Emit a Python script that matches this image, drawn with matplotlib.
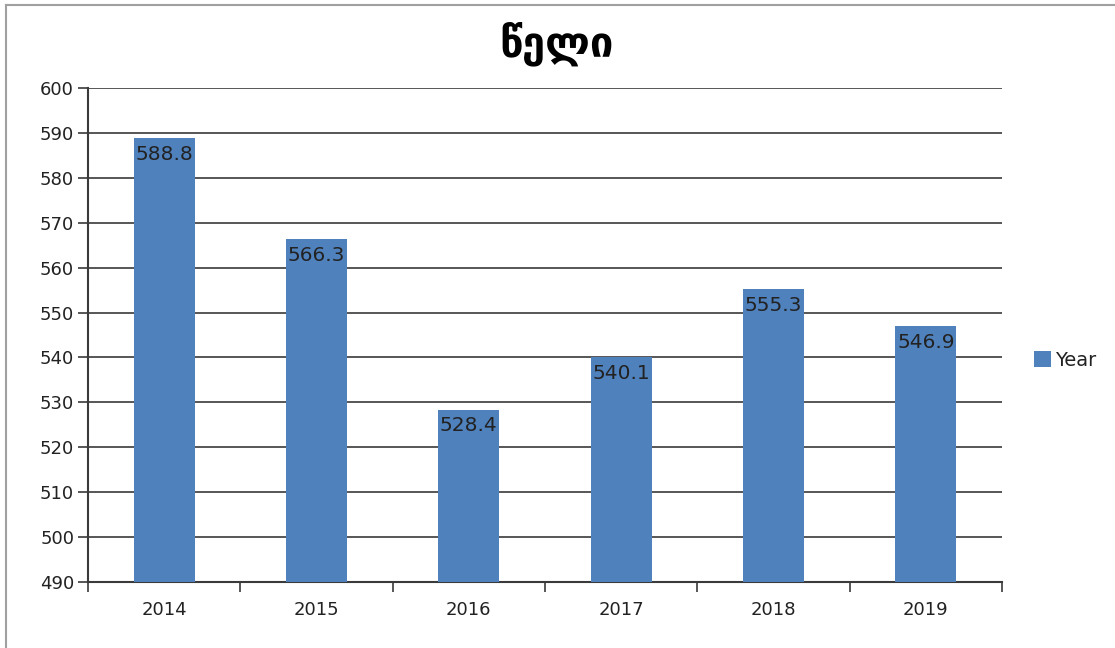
import matplotlib
matplotlib.use("Agg")
import matplotlib.pyplot as plt
from matplotlib.lines import Line2D
from matplotlib.ticker import FixedLocator

years = ["2014", "2015", "2016", "2017", "2018", "2019"]
values = [588.8, 566.3, 528.4, 540.1, 555.3, 546.9]
series_name = "Year"
title = "წელი"

bar_color = "#4F81BD"
text_color = "#222222"
line_color = "#3a3a3a"

plt.rcParams["font.family"] = ["DejaVu Sans"]

fig = plt.figure(figsize=(11.15, 6.48), dpi=100)
ax = fig.add_axes([88 / 1115, 1 - 582 / 648, (1002 - 88) / 1115, (582 - 88) / 648])

x = list(range(len(years)))
bars = ax.bar(x, [v - 490 for v in values], bottom=490, width=0.4,
              color=bar_color, label=series_name, zorder=3)

for xi, v in zip(x, values):
    ax.annotate(f"{v}", (xi, v), xytext=(0, -5), textcoords="offset points",
                ha="center", va="top", fontsize=14.5, color=text_color, zorder=4)

ax.set_xlim(-0.5, len(years) - 0.5)
ax.set_ylim(490, 600)
ax.set_yticks(range(490, 601, 10))
ax.yaxis.grid(True, color=line_color, linewidth=1.2, zorder=1)
ax.set_axisbelow(True)

ax.set_xticks(x)
ax.set_xticklabels(years)
ax.xaxis.set_minor_locator(FixedLocator([i - 0.5 for i in range(len(years) + 1)]))
ax.tick_params(axis="x", which="major", length=0, pad=14, labelsize=13, labelcolor=text_color)
ax.tick_params(axis="x", which="minor", length=7, width=1.2, color=line_color, direction="out")
ax.tick_params(axis="y", length=7, width=1.2, color=line_color, labelsize=13,
               labelcolor=text_color, pad=3)

for s in ("top", "right"):
    ax.spines[s].set_visible(False)
for s in ("left", "bottom"):
    ax.spines[s].set_color(line_color)
    ax.spines[s].set_linewidth(1.5)

fig.text(557 / 1115, 1 - 44 / 648, title, ha="center", va="center",
         fontsize=30, fontweight="bold", color="black")

fig.legend(handles=[bars], labels=[series_name], loc="center left",
           bbox_to_anchor=(1016 / 1115, 1 - 360 / 648), frameon=False,
           fontsize=14, handlelength=0.9, handleheight=0.9, handletextpad=0.2,
           labelcolor=text_color)

# light frame along top and left edges
fig.add_artist(Line2D([6 / 1115, 1], [1 - 5 / 648, 1 - 5 / 648], color="#a0a0a0", linewidth=1.5))
fig.add_artist(Line2D([6 / 1115, 6 / 1115], [0, 1 - 5 / 648], color="#a0a0a0", linewidth=1.5))

fig.savefig("out.png", dpi=100)
